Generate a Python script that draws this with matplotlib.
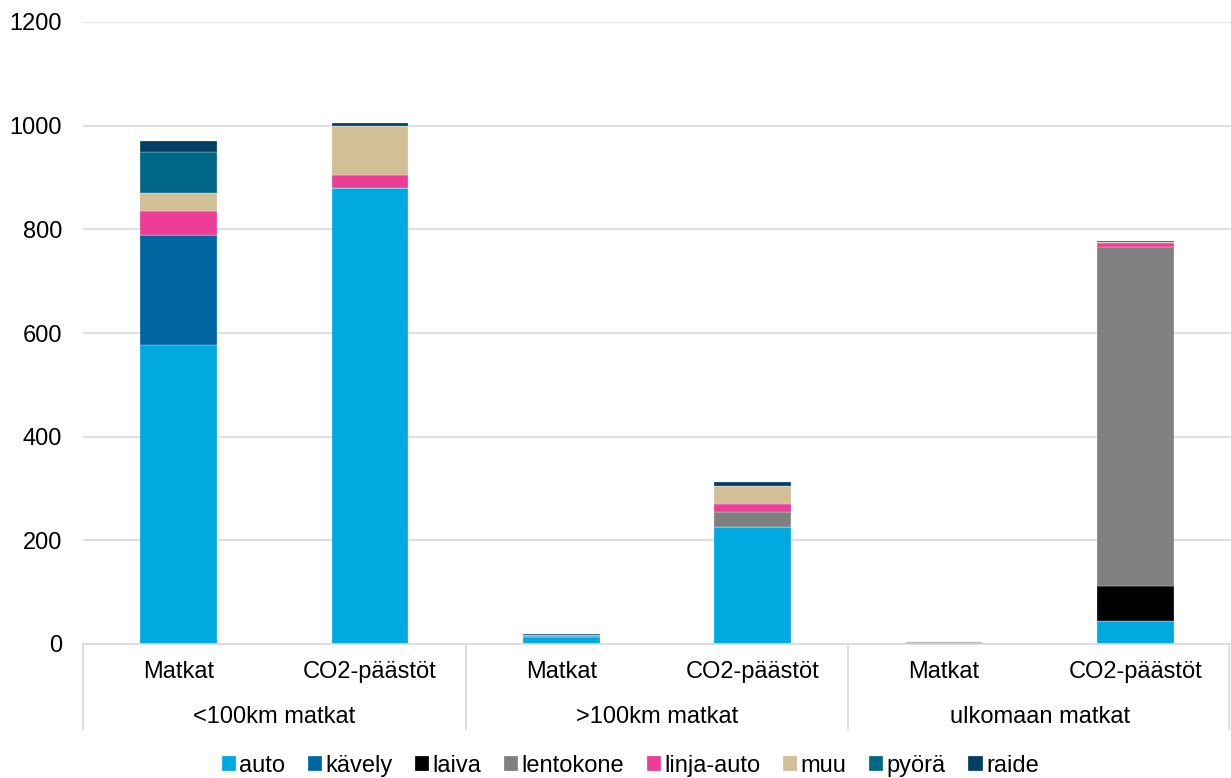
import matplotlib as mpl
import matplotlib.pyplot as plt
import matplotlib.transforms as mtransforms
import numpy as np

mpl.rcParams['font.family'] = ['Liberation Sans', 'DejaVu Sans']
mpl.rcParams['font.size'] = 17

# data
groups = ['<100km matkat', '>100km matkat', 'ulkomaan matkat']
sub_labels = ['Matkat', 'CO2-päästöt'] * 3
series = ['auto', 'kävely', 'laiva', 'lentokone', 'linja-auto', 'muu', 'pyörä', 'raide']
colors = ['#00a9e0', '#0066a1', '#000000', '#808080', '#ee3d96', '#d3bf96', '#006887', '#003f63']

auto = [576, 880, 14, 226, 0.5, 45]
kavely = [214, 0, 0.5, 0, 0, 0]
laiva = [0, 0, 0, 0, 0, 67]
lentokone = [0, 0, 1, 29, 4, 653]
linja_auto = [46, 24, 1, 16, 0, 8]
muu = [35, 96, 0.5, 34, 0, 3]
pyora = [79, 0, 0.5, 0, 0, 0]
raide = [20, 6, 2, 8, 0, 2]
values = [auto, kavely, laiva, lentokone, linja_auto, muu, pyora, raide]

fig = plt.figure(figsize=(12.31, 7.78), dpi=100)
ax = fig.add_axes([83 / 1231, 134 / 778, 1 - 83 / 1231, 622 / 778])

x = np.arange(len(sub_labels))
bottom = np.zeros(len(sub_labels))
for name, vals, col in zip(series, values, colors):
    ax.bar(x, vals, width=0.4, bottom=bottom, color=col, label=name,
           edgecolor='#e8f4fa', linewidth=0.2)
    bottom += np.array(vals)

ax.set_xlim(-0.5, 5.5)
ax.set_ylim(0, 1200)
ax.set_yticks(range(0, 1201, 200))
ax.yaxis.grid(True, color='#d9d9d9', linewidth=1.2)
ax.set_axisbelow(True)
for s in ['top', 'right', 'left']:
    ax.spines[s].set_visible(False)
ax.spines['bottom'].set_color('#d9d9d9')
ax.spines['bottom'].set_linewidth(1.2)
ax.tick_params(axis='y', length=0, pad=15, labelsize=17)
ax.set_xticks([])

# two-level category axis
trans = mtransforms.blended_transform_factory(ax.transData, ax.transAxes)
for i, lab in enumerate(sub_labels):
    ax.text(i, -0.045, lab, transform=trans, ha='center', va='center')
for g, lab in enumerate(groups):
    ax.text(2 * g + 0.5, -0.117, lab, transform=trans, ha='center', va='center')
for sep in [-0.5, 1.5, 3.5, 5.49]:
    ax.plot([sep, sep], [0, -0.136], transform=trans, color='#d9d9d9',
            linewidth=1.2, clip_on=False)

fig.legend(loc='center', bbox_to_anchor=(0.512, 1 - 766 / 778), ncol=8, frameon=False,
           handlelength=0.6, handleheight=0.6, handletextpad=0.15, columnspacing=0.95,
           fontsize=17)

fig.savefig('out.png', dpi=100)
